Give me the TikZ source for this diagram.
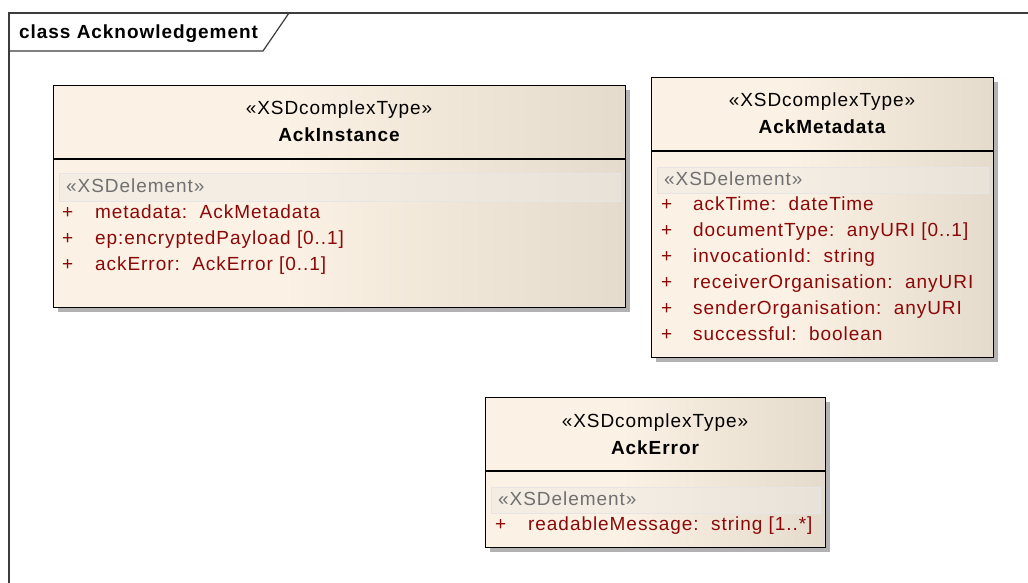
\documentclass[tikz,border=0pt]{standalone}
\usepackage{fontspec}
\setmainfont{Liberation Sans}[LetterSpace=5]
\usetikzlibrary{shadows}

\definecolor{boxL}{RGB}{251,241,228}
\definecolor{boxR}{RGB}{229,219,204}
\definecolor{attrred}{RGB}{140,8,8}
\definecolor{elemgray}{RGB}{112,112,112}
\definecolor{framec}{RGB}{60,60,60}
\definecolor{bandc}{RGB}{236,234,230}

% class body: flat cream on the left, darkening towards the right edge
\pgfdeclarehorizontalshading{eaclass}{100bp}{color(0bp)=(boxL); color(45bp)=(boxL); color(75bp)=(boxR); color(100bp)=(boxR)}

\newcommand{\umlfont}{\fontsize{19}{23}\selectfont}

\tikzset{
  classbox/.style={draw=black, line width=1.4pt, shading=eaclass, anchor=north west,
    inner sep=0pt, drop shadow={shadow xshift=4pt, shadow yshift=-4pt, fill=black, opacity=0.3}},
  sepline/.style={draw=black, line width=1.4pt},
  band/.style={draw=black!10, line width=1pt, fill=bandc, fill opacity=0.45, anchor=north west, inner sep=0pt},
  stereo/.style={anchor=base, inner sep=0pt, font=\umlfont},
  cname/.style={anchor=base, inner sep=0pt, font=\umlfont\bfseries},
  elem/.style={anchor=base west, inner sep=0pt, text=elemgray, font=\umlfont},
  vis/.style={anchor=base west, inner sep=0pt, text=attrred, font=\umlfont},
  attrib/.style={anchor=base west, inner sep=0pt, text=attrred, font=\umlfont},
  framel/.style={draw=framec, line width=1.2pt}
}

\begin{document}
\begin{tikzpicture}[x=1pt,y=-1pt]
\useasboundingbox (0,0) rectangle (1028,583);

% diagram frame with its name tab
\coordinate (fbl) at (9,583);
\coordinate (ftl) at (9,13);
\coordinate (ftr) at (1028,13);
\coordinate (tabl) at (9,51);
\coordinate (tabc) at (263,51);
\coordinate (tabt) at (289,13);
\draw[framel] (fbl) -- (ftl) -- (ftr);
\draw[framel] (tabl) -- (tabc) -- (tabt);
\node[anchor=base west, inner sep=0pt, font=\umlfont\bfseries] (title) at (19,39) {class Acknowledgement};

% ---- AckInstance ----
\node[classbox, minimum width=572pt, minimum height=222pt] (inst) at (53,85) {};
\draw[sepline] (inst.west |- 0,159) -- (inst.east |- 0,159);
\node[band, minimum width=561pt, minimum height=28pt] (instband) at (59,173) {};
\node[stereo] (instst) at (339,115) {«XSDcomplexType»};
\node[cname] (instnm) at (339,142) {AckInstance};
\node[elem] (instel) at (66,192) {«XSDelement»};
\node[vis] (instp1) at (62,218) {+};
\node[attrib] (insta1) at (95,218) {metadata:~~AckMetadata};
\node[vis] (instp2) at (62,244) {+};
\node[attrib] (insta2) at (95,244) {ep:encryptedPayload [0..1]};
\node[vis] (instp3) at (62,270) {+};
\node[attrib] (insta3) at (95,270) {ackError:~~AckError [0..1]};

% ---- AckMetadata ----
\node[classbox, minimum width=342pt, minimum height=280pt] (meta) at (651,77) {};
\draw[sepline] (meta.west |- 0,151) -- (meta.east |- 0,151);
\node[band, minimum width=331pt, minimum height=26pt] (metaband) at (657,167) {};
\node[stereo] (metast) at (822,107) {«XSDcomplexType»};
\node[cname] (metanm) at (822,134) {AckMetadata};
\node[elem] (metael) at (664,185) {«XSDelement»};
\node[vis] (metap1) at (661,210) {+};
\node[attrib] (metaa1) at (693,210) {ackTime:~~dateTime};
\node[vis] (metap2) at (661,236) {+};
\node[attrib] (metaa2) at (693,236) {documentType:~~anyURI [0..1]};
\node[vis] (metap3) at (661,262) {+};
\node[attrib] (metaa3) at (693,262) {invocationId:~~string};
\node[vis] (metap4) at (661,288) {+};
\node[attrib] (metaa4) at (693,288) {receiverOrganisation:~~anyURI};
\node[vis] (metap5) at (661,314) {+};
\node[attrib] (metaa5) at (693,314) {senderOrganisation:~~anyURI};
\node[vis] (metap6) at (661,340) {+};
\node[attrib] (metaa6) at (693,340) {successful:~~boolean};

% ---- AckError ----
\node[classbox, minimum width=340pt, minimum height=150pt] (err) at (485,397) {};
\draw[sepline] (err.west |- 0,471) -- (err.east |- 0,471);
\node[band, minimum width=329pt, minimum height=26pt] (errband) at (491,487) {};
\node[stereo] (errst) at (655,427) {«XSDcomplexType»};
\node[cname] (errnm) at (655,454) {AckError};
\node[elem] (errel) at (498,505) {«XSDelement»};
\node[vis] (errp1) at (495,530) {+};
\node[attrib] (erra1) at (528,530) {readableMessage:~~string [1..*]};
\end{tikzpicture}
\end{document}
